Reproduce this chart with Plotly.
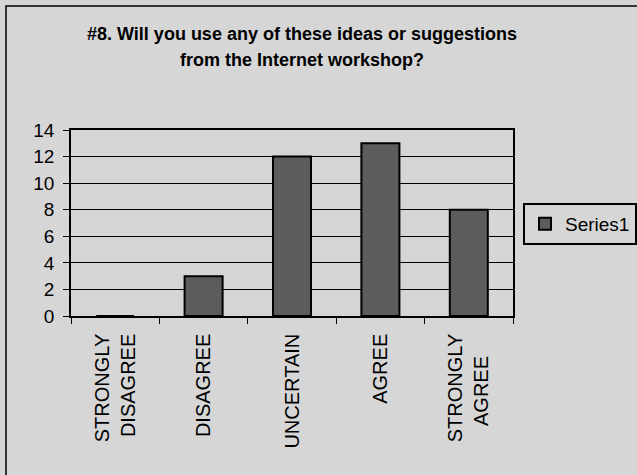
import plotly.graph_objects as go

# Survey responses for question 8
categories = ["STRONGLY<br>DISAGREE", "DISAGREE", "UNCERTAIN", "AGREE",
              "STRONGLY<br>AGREE\u00a0\u00a0\u00a0\u00a0"]
counts = [0, 3, 12, 13, 8]
series_name = "Series1"
y_ticks = [0, 2, 4, 6, 8, 10, 12, 14]
title_lines = ["#8. Will you use any of these ideas or suggestions",
               "from the Internet workshop?"]

BG = "#d6d6d6"
FONT = "Liberation Sans, Arial, sans-serif"

fig = go.Figure()
fig.add_trace(go.Bar(
    x=categories, y=counts, name=series_name,
    width=0.43,
    marker=dict(color="#5c5c5c", line=dict(color="black", width=2)),
    showlegend=True,
))

W, H = 637, 475
L, R, T, B = 71, 124, 130, 159
pw, ph = W - L - R, H - T - B
TITLE_X = 302

fig.update_layout(
    width=W, height=H,
    margin=dict(l=L, r=R, t=T, b=B, autoexpand=False),
    paper_bgcolor=BG, plot_bgcolor=BG,
    font=dict(family=FONT, color="black", size=19),
    title=dict(
        text="<b>" + title_lines[0] + "</b>",
        x=TITLE_X / W, xanchor="center", xref="container",
        y=1 - 40 / H, yanchor="bottom", yref="container",
        font=dict(family=FONT, size=18, color="black"),
        pad=dict(t=0, b=0, l=0, r=0),
    ),
    bargap=0.57,
    legend=dict(
        xref="container", yref="container",
        x=523 / W, xanchor="left",
        y=1 - 203 / H, yanchor="top",
        bgcolor=BG, bordercolor="black", borderwidth=2,
        font=dict(family=FONT, size=19, color="black"),
    ),
    xaxis=dict(
        type="category",
        showline=True, linecolor="black", linewidth=1.5, mirror=True,
        ticks="outside", tickson="boundaries", ticklen=6, tickcolor="black",
        tickangle=-90, tickfont=dict(family=FONT, size=20, color="black"),
        ticklabelstandoff=8,
        showgrid=False,
    ),
    yaxis=dict(
        range=[0, 14], tickvals=y_ticks,
        showline=True, linecolor="black", linewidth=1.5, mirror=True,
        ticks="outside", ticklen=6, tickcolor="black",
        showgrid=True, gridcolor="black", gridwidth=1,
        tickfont=dict(family=FONT, size=19, color="black"),
        ticklabelstandoff=5,
        zeroline=False,
    ),
)

# Second title line, set a little lower than the default line spacing
fig.add_annotation(
    text="<b>" + title_lines[1] + "</b>",
    xref="paper", yref="paper",
    x=(TITLE_X - L) / pw, xanchor="center",
    y=(H - B - 71) / ph, yanchor="bottom",
    showarrow=False, borderpad=0,
    font=dict(family=FONT, size=18, color="black"),
)

# Outer frame of the chart area
fig.add_shape(
    type="rect", xref="paper", yref="paper",
    x0=(6 - L) / pw, x1=(W + 20 - L) / pw,
    y0=-(B + 20) / ph, y1=(H - B - 6) / ph,
    line=dict(color="black", width=1.5), fillcolor="rgba(0,0,0,0)",
    layer="below",
)

fig.write_html("out.html")
